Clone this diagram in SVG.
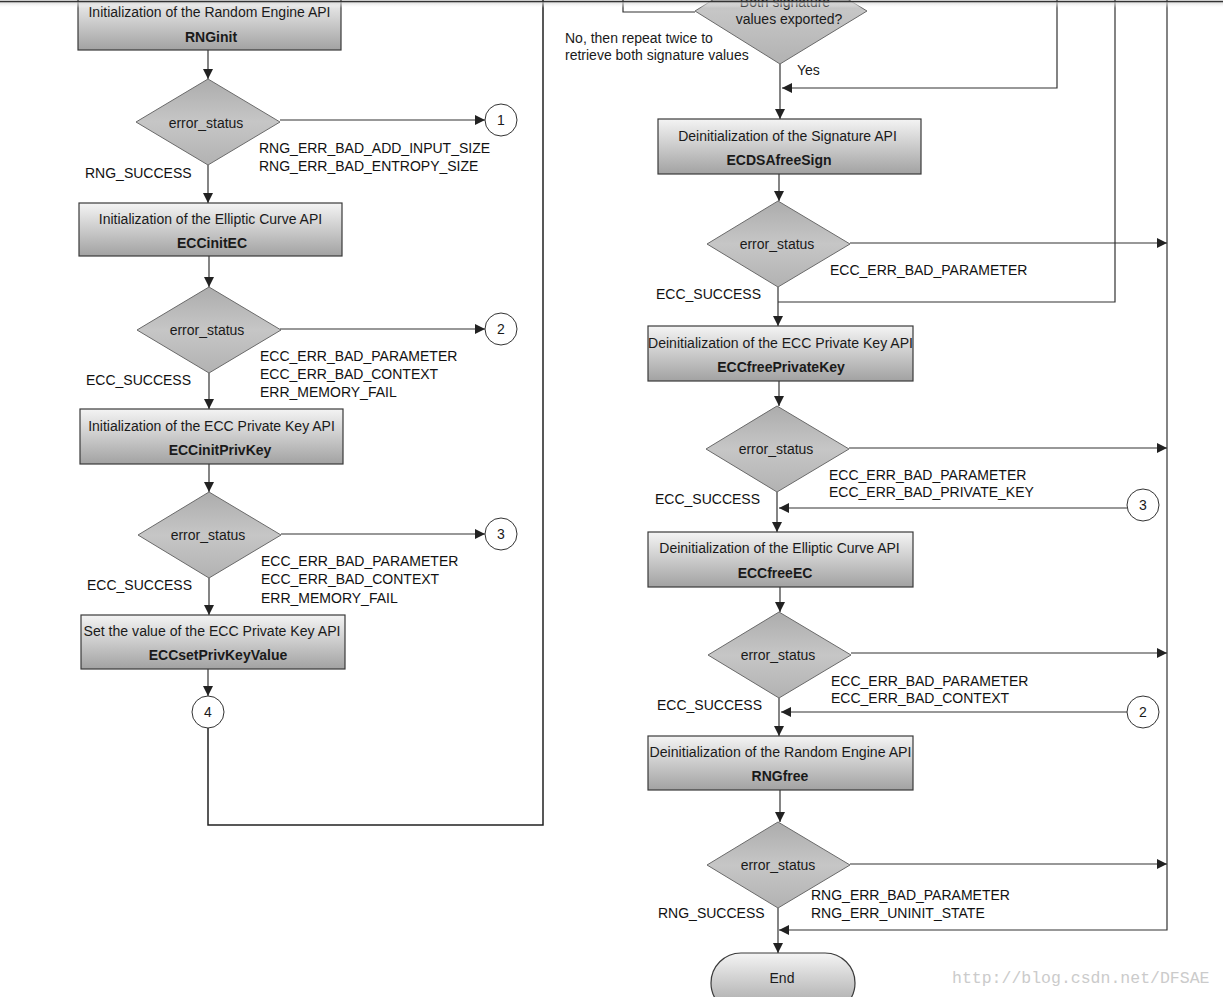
<svg xmlns="http://www.w3.org/2000/svg" width="1223" height="997" viewBox="0 0 1223 997">
<defs>
<linearGradient id="gBox" x1="0" y1="0" x2="0" y2="1">
<stop offset="0" stop-color="#f4f4f4"/>
<stop offset="1" stop-color="#a2a2a2"/>
</linearGradient>
<linearGradient id="gDia" x1="0" y1="0" x2="0" y2="1">
<stop offset="0" stop-color="#acacac"/>
<stop offset="0.5" stop-color="#c6c6c6"/>
<stop offset="1" stop-color="#b2b2b2"/>
</linearGradient>
<linearGradient id="gTop" x1="0" y1="0" x2="0" y2="1">
<stop offset="0" stop-color="#d0d0d0" stop-opacity="0.8"/>
<stop offset="1" stop-color="#ffffff" stop-opacity="0"/>
</linearGradient>
<marker id="ah" viewBox="0 0 10 10" refX="10" refY="5" markerWidth="10" markerHeight="10" markerUnits="userSpaceOnUse" orient="auto">
<path d="M0,0 L10,5 L0,10 z" fill="#222"/>
</marker>
</defs>
<style>
.box{fill:url(#gBox);stroke:#3a3a3a;stroke-width:1.2}
.dia{fill:url(#gDia);stroke:#6a6a6a;stroke-width:1}
.cir{fill:#fff;stroke:#333;stroke-width:1}
.t{font-family:"Liberation Sans",Arial,sans-serif;font-size:14px;fill:#1a1a1a}
.b{font-family:"Liberation Sans",Arial,sans-serif;font-size:14px;font-weight:bold;fill:#1a1a1a}
.lab{font-family:"Liberation Sans",Arial,sans-serif;font-size:14px;fill:#111}
.c{text-anchor:middle}
.ln{fill:none;stroke:#333;stroke-width:1.2}
.ar{fill:none;stroke:#333;stroke-width:1.2;marker-end:url(#ah)}
.bd{fill:none;stroke:#222;stroke-width:1.5}
</style>
<rect x="0" y="0" width="1223" height="997" fill="#fff"/>

<g id="connectors">
<line class="ar" x1="208" y1="50" x2="208" y2="79"/>
<line class="ar" x1="280" y1="120" x2="485" y2="120"/>
<line class="ar" x1="208" y1="165" x2="208" y2="203"/>
<line class="ar" x1="209" y1="256" x2="209" y2="287"/>
<line class="ar" x1="280" y1="329" x2="485" y2="329"/>
<line class="ar" x1="209" y1="373" x2="209" y2="409"/>
<line class="ar" x1="209" y1="464" x2="209" y2="492"/>
<line class="ar" x1="281" y1="534" x2="485" y2="534"/>
<line class="ar" x1="209" y1="578" x2="209" y2="615"/>
<line class="ar" x1="208" y1="669" x2="208" y2="696"/>
<path class="bd" d="M208,728 V825 H543 V0"/>
<path class="ln" d="M623,0 V12 H695"/>
<line class="ar" x1="780" y1="64" x2="780" y2="119"/>
<path class="ar" d="M1057,0 V88 H782"/>
<line class="ar" x1="779" y1="174" x2="779" y2="201"/>
<line class="ar" x1="850" y1="243" x2="1167" y2="243"/>
<line class="ar" x1="778" y1="287" x2="778" y2="326"/>
<path class="ln" d="M778,302 H1115 V0"/>
<line class="ar" x1="779" y1="381" x2="779" y2="406"/>
<line class="ar" x1="849" y1="448" x2="1167" y2="448"/>
<line class="ar" x1="1127" y1="508" x2="779" y2="508"/>
<line class="ar" x1="777" y1="492" x2="777" y2="532"/>
<line class="ar" x1="780" y1="587" x2="780" y2="612"/>
<line class="ar" x1="851" y1="653" x2="1167" y2="653"/>
<line class="ar" x1="1127" y1="712" x2="781" y2="712"/>
<line class="ar" x1="779" y1="698" x2="779" y2="736"/>
<line class="ar" x1="780" y1="790" x2="780" y2="822"/>
<line class="ar" x1="850" y1="864" x2="1167" y2="864"/>
<path class="ar" d="M1167,0 V930 H779"/>
<line class="ar" x1="778" y1="908" x2="778" y2="953"/>
</g>

<g id="n-rnginit">
<rect class="box" x="78" y="-4" width="263" height="54"/>
<text class="t c" x="209.5" y="17">Initialization of the Random Engine API</text>
<text class="b c" x="211" y="42">RNGinit</text>
</g>
<g id="d1">
<polygon class="dia" points="208,79 280,122 208,165 136,122"/>
<text class="t c" x="206" y="128">error_status</text>
</g>
<text class="lab" x="259" y="153">RNG_ERR_BAD_ADD_INPUT_SIZE</text>
<text class="lab" x="259" y="171">RNG_ERR_BAD_ENTROPY_SIZE</text>
<text class="lab" x="85" y="178">RNG_SUCCESS</text>
<g id="c1-left"><circle class="cir" cx="501" cy="120" r="16"/><text class="t c" x="501" y="125">1</text></g>

<g id="n-eccinitec">
<rect class="box" x="79" y="203" width="263" height="53"/>
<text class="t c" x="210.5" y="224">Initialization of the Elliptic Curve API</text>
<text class="b c" x="212" y="248">ECCinitEC</text>
</g>
<g id="d2">
<polygon class="dia" points="209,287 281,330 209,373 137,330"/>
<text class="t c" x="207" y="335">error_status</text>
</g>
<text class="lab" x="260" y="361">ECC_ERR_BAD_PARAMETER</text>
<text class="lab" x="260" y="379">ECC_ERR_BAD_CONTEXT</text>
<text class="lab" x="260" y="397">ERR_MEMORY_FAIL</text>
<text class="lab" x="86" y="385">ECC_SUCCESS</text>
<g id="c2-left"><circle class="cir" cx="501" cy="329" r="16"/><text class="t c" x="501" y="334">2</text></g>

<g id="n-eccinitprivkey">
<rect class="box" x="80" y="409" width="263" height="55"/>
<text class="t c" x="211.5" y="431">Initialization of the ECC Private Key API</text>
<text class="b c" x="220" y="455">ECCinitPrivKey</text>
</g>
<g id="d3">
<polygon class="dia" points="209,492 281,535 209,578 138,535"/>
<text class="t c" x="208" y="540">error_status</text>
</g>
<text class="lab" x="261" y="566">ECC_ERR_BAD_PARAMETER</text>
<text class="lab" x="261" y="584">ECC_ERR_BAD_CONTEXT</text>
<text class="lab" x="261" y="603">ERR_MEMORY_FAIL</text>
<text class="lab" x="87" y="590">ECC_SUCCESS</text>
<g id="c3-left"><circle class="cir" cx="501" cy="534" r="16"/><text class="t c" x="501" y="539">3</text></g>

<g id="n-eccsetprivkeyvalue">
<rect class="box" x="81" y="615" width="264" height="54"/>
<text class="t c" x="212" y="636" textLength="257" lengthAdjust="spacingAndGlyphs">Set the value of the ECC Private Key API</text>
<text class="b c" x="218" y="660">ECCsetPrivKeyValue</text>
</g>
<g id="c4"><circle class="cir" cx="208" cy="712" r="16"/><text class="t c" x="208" y="717">4</text></g>

<g id="d-both">
<polygon class="dia" points="780,-42 867,11 780,64 695,11"/>
<text class="t c" x="785" y="7">Both signature</text>
<text class="t c" x="789" y="24">values exported?</text>
</g>
<text class="t" x="565" y="43">No, then repeat twice to</text>
<text class="t" x="565" y="60">retrieve both signature values</text>
<text class="t" x="797" y="75">Yes</text>

<g id="n-ecdsafreesign">
<rect class="box" x="658" y="119" width="263" height="55"/>
<text class="t c" x="787.5" y="141">Deinitialization of the Signature API</text>
<text class="b c" x="779" y="165">ECDSAfreeSign</text>
</g>
<g id="d5">
<polygon class="dia" points="778,201 850,244 778,287 707,244"/>
<text class="t c" x="777" y="249">error_status</text>
</g>
<text class="lab" x="830" y="275">ECC_ERR_BAD_PARAMETER</text>
<text class="lab" x="656" y="299">ECC_SUCCESS</text>

<g id="n-eccfreeprivatekey">
<rect class="box" x="648" y="326" width="265" height="55"/>
<text class="t c" x="780.5" y="348" textLength="265" lengthAdjust="spacingAndGlyphs">Deinitialization of the ECC Private Key API</text>
<text class="b c" x="781" y="372">ECCfreePrivateKey</text>
</g>
<g id="d6">
<polygon class="dia" points="777,406 849,449 777,492 706,449"/>
<text class="t c" x="776" y="454">error_status</text>
</g>
<text class="lab" x="829" y="480">ECC_ERR_BAD_PARAMETER</text>
<text class="lab" x="829" y="497">ECC_ERR_BAD_PRIVATE_KEY</text>
<text class="lab" x="655" y="504">ECC_SUCCESS</text>
<g id="c3-right"><circle class="cir" cx="1143" cy="505" r="16"/><text class="t c" x="1143" y="510">3</text></g>

<g id="n-eccfreeec">
<rect class="box" x="648" y="532" width="265" height="55"/>
<text class="t c" x="779.5" y="553">Deinitialization of the Elliptic Curve API</text>
<text class="b c" x="775" y="578">ECCfreeEC</text>
</g>
<g id="d7">
<polygon class="dia" points="779,612 851,655 779,698 708,655"/>
<text class="t c" x="778" y="660">error_status</text>
</g>
<text class="lab" x="831" y="686">ECC_ERR_BAD_PARAMETER</text>
<text class="lab" x="831" y="703">ECC_ERR_BAD_CONTEXT</text>
<text class="lab" x="657" y="710">ECC_SUCCESS</text>
<g id="c2-right"><circle class="cir" cx="1143" cy="712" r="16"/><text class="t c" x="1143" y="717">2</text></g>

<g id="n-rngfree">
<rect class="box" x="648" y="736" width="265" height="54"/>
<text class="t c" x="780.5" y="757" textLength="262" lengthAdjust="spacingAndGlyphs">Deinitialization of the Random Engine API</text>
<text class="b c" x="780" y="781">RNGfree</text>
</g>
<g id="d8">
<polygon class="dia" points="778,822 850,865 778,908 707,865"/>
<text class="t c" x="778" y="870">error_status</text>
</g>
<text class="lab" x="811" y="900">RNG_ERR_BAD_PARAMETER</text>
<text class="lab" x="811" y="918">RNG_ERR_UNINIT_STATE</text>
<text class="lab" x="658" y="918">RNG_SUCCESS</text>

<g id="n-end">
<rect class="box" x="711" y="953" width="144" height="60" rx="30" ry="30"/>
<text class="t c" x="782" y="983">End</text>
</g>

<text x="952" y="983" style="font-family:'Liberation Mono','DejaVu Sans Mono',monospace;font-size:16.5px;fill:#cbcbcb">http://blog.csdn.net/DFSAE</text>

<g id="topbar">
<rect x="0" y="2" width="1223" height="6" fill="url(#gTop)"/>
<line x1="0" y1="1.5" x2="1223" y2="1.5" stroke="#333" stroke-width="1.5"/>
</g>
</svg>
